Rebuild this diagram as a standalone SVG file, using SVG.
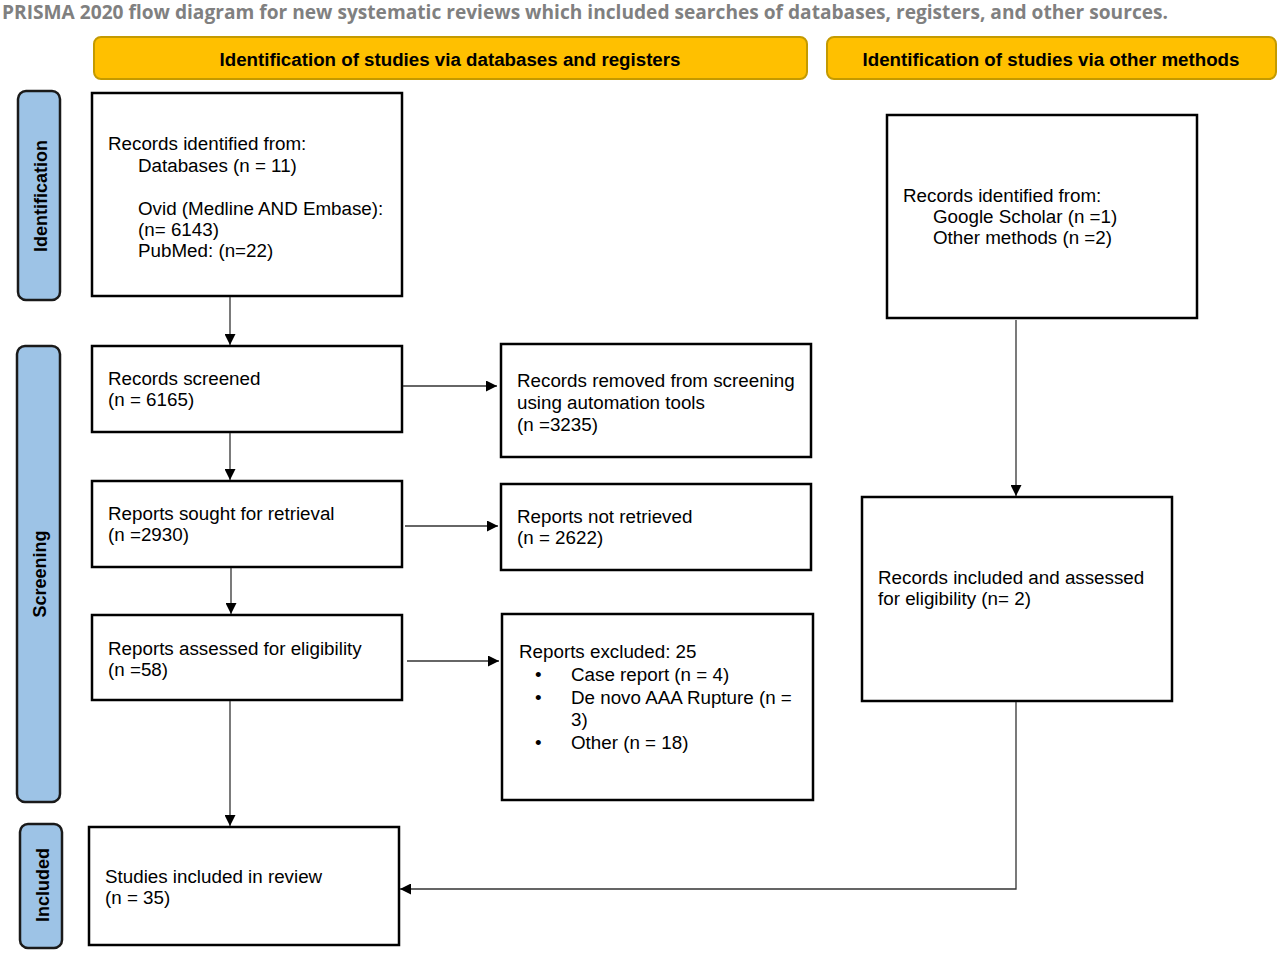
<svg xmlns="http://www.w3.org/2000/svg" width="1280" height="953" viewBox="0 0 1280 953">
<defs>
<style>
.t{font-family:"Liberation Sans",Arial,sans-serif;font-size:18.8px;fill:#000}
.hd{font-family:"Liberation Sans",Arial,sans-serif;font-size:18px;font-weight:bold;fill:#000}
.side{font-family:"Liberation Sans",Arial,sans-serif;font-size:18px;font-weight:bold;fill:#000}
.box{fill:#fff;stroke:#000;stroke-width:2.5}
.hdr{fill:#FFC000;stroke:#C49A00;stroke-width:2}
.bar{fill:#9DC3E6;stroke:#1a1a1a;stroke-width:2.5}
.ln{fill:none;stroke:#333;stroke-width:1.3}
</style>
<marker id="ah" viewBox="0 0 10 10" refX="10" refY="5" markerWidth="12" markerHeight="11" markerUnits="userSpaceOnUse" orient="auto">
<path d="M0,0 L10,5 L0,10 Z" fill="#000"/>
</marker>
</defs>
<rect width="1280" height="953" fill="#fff"/>
<text x="2" y="19" font-family="'Open Sans','Liberation Sans',sans-serif" font-size="19" font-weight="bold" fill="#808080" textLength="1166" lengthAdjust="spacingAndGlyphs">PRISMA 2020 flow diagram for new systematic reviews which included searches of databases, registers, and other sources.</text>

<g id="hdr-db"><rect class="hdr" x="94" y="37" width="713" height="42" rx="7"/><text class="hd" x="450" y="66" text-anchor="middle" textLength="461" lengthAdjust="spacingAndGlyphs">Identification of studies via databases and registers</text></g>
<g id="hdr-other"><rect class="hdr" x="827" y="37" width="449" height="42" rx="7"/><text class="hd" x="1051" y="66" text-anchor="middle" textLength="377" lengthAdjust="spacingAndGlyphs">Identification of studies via other methods</text></g>

<g id="bar-identification"><rect class="bar" x="18" y="91" width="42" height="209" rx="8"/><text class="side" transform="translate(47,196) rotate(-90)" text-anchor="middle">Identification</text></g>
<g id="bar-screening"><rect class="bar" x="17" y="346" width="43" height="456" rx="8"/><text class="side" transform="translate(46,574) rotate(-90)" text-anchor="middle">Screening</text></g>
<g id="bar-included"><rect class="bar" x="20" y="824" width="42" height="124" rx="8"/><text class="side" transform="translate(49,885) rotate(-90)" text-anchor="middle">Included</text></g>

<g id="records-identified"><rect class="box" x="92" y="93" width="310" height="203"/>
<text class="t" x="108" y="150">Records identified from:</text>
<text class="t" x="138" y="172">Databases (n = 11)</text>
<text class="t" x="138" y="215">Ovid (Medline AND Embase):</text>
<text class="t" x="138" y="236">(n= 6143)</text>
<text class="t" x="138" y="257">PubMed: (n=22)</text></g>

<g id="records-screened"><rect class="box" x="92" y="346" width="310" height="86"/>
<text class="t" x="108" y="385">Records screened</text>
<text class="t" x="108" y="406">(n = 6165)</text></g>

<g id="reports-sought"><rect class="box" x="92" y="481" width="310" height="86"/>
<text class="t" x="108" y="520">Reports sought for retrieval</text>
<text class="t" x="108" y="541">(n =2930)</text></g>

<g id="reports-assessed"><rect class="box" x="92" y="615" width="310" height="85"/>
<text class="t" x="108" y="655">Reports assessed for eligibility</text>
<text class="t" x="108" y="676">(n =58)</text></g>

<g id="studies-included"><rect class="box" x="89" y="827" width="310" height="118"/>
<text class="t" x="105" y="883">Studies included in review</text>
<text class="t" x="105" y="904">(n = 35)</text></g>

<g id="records-removed"><rect class="box" x="501" y="344" width="310" height="113"/>
<text class="t" x="517" y="387">Records removed from screening</text>
<text class="t" x="517" y="409">using automation tools</text>
<text class="t" x="517" y="431">(n =3235)</text></g>

<g id="reports-not-retrieved"><rect class="box" x="501" y="484" width="310" height="86"/>
<text class="t" x="517" y="523">Reports not retrieved</text>
<text class="t" x="517" y="544">(n = 2622)</text></g>

<g id="reports-excluded"><rect class="box" x="502" y="614" width="311" height="186"/>
<text class="t" x="519" y="658">Reports excluded: 25</text>
<text class="t" x="535" y="681">•</text><text class="t" x="571" y="681">Case report (n = 4)</text>
<text class="t" x="535" y="704">•</text><text class="t" x="571" y="704">De novo AAA Rupture (n =</text>
<text class="t" x="571" y="726">3)</text>
<text class="t" x="535" y="749">•</text><text class="t" x="571" y="749">Other (n = 18)</text></g>

<g id="other-identified"><rect class="box" x="887" y="115" width="310" height="203"/>
<text class="t" x="903" y="202">Records identified from:</text>
<text class="t" x="933" y="223">Google Scholar (n =1)</text>
<text class="t" x="933" y="244">Other methods (n =2)</text></g>

<g id="other-assessed"><rect class="box" x="862" y="497" width="310" height="204"/>
<text class="t" x="878" y="584">Records included and assessed</text>
<text class="t" x="878" y="605">for eligibility (n= 2)</text></g>

<g id="connectors">
<line class="ln" x1="230" y1="297" x2="230" y2="345" marker-end="url(#ah)"/>
<line class="ln" x1="230" y1="433" x2="230" y2="480" marker-end="url(#ah)"/>
<line class="ln" x1="231" y1="568" x2="231" y2="614" marker-end="url(#ah)"/>
<line class="ln" x1="230" y1="701" x2="230" y2="826" marker-end="url(#ah)"/>
<line class="ln" x1="403" y1="386" x2="497" y2="386" marker-end="url(#ah)"/>
<line class="ln" x1="405" y1="526" x2="498" y2="526" marker-end="url(#ah)"/>
<line class="ln" x1="407" y1="661" x2="499" y2="661" marker-end="url(#ah)"/>
<line class="ln" x1="1016" y1="320" x2="1016" y2="496" marker-end="url(#ah)"/>
<polyline class="ln" points="1016,702 1016,889 400,889" marker-end="url(#ah)"/>
</g>
</svg>
